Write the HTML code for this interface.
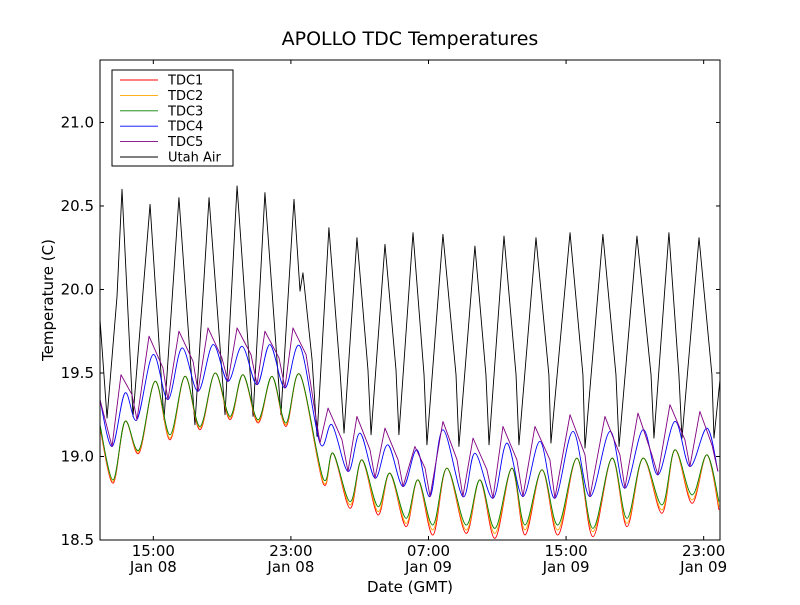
<!DOCTYPE html>
<html><head><meta charset="utf-8"><style>
body{margin:0;background:#fff;}
svg text{font-family:"DejaVu Sans","Liberation Sans",sans-serif;}
</style></head><body>
<svg id="chart" width="800" height="600" xmlns="http://www.w3.org/2000/svg">
<rect x="0" y="0" width="800" height="600" fill="#fff"/>
<text x="410" y="45" font-size="19" text-anchor="middle">APOLLO TDC Temperatures</text>
<text x="410" y="592" font-size="15" text-anchor="middle">Date (GMT)</text>
<text x="53" y="300" font-size="15" text-anchor="middle" transform="rotate(-90 53 300)">Temperature (C)</text>
<defs><clipPath id="pc"><rect x="100" y="60" width="620" height="480"/></clipPath></defs>
<g id="series" clip-path="url(#pc)"></g>
<g id="axes"></g>
<g id="legend">
<rect x="112" y="70" width="121" height="96" fill="#fff" stroke="#000" stroke-width="1"/>
</g>
</svg>
<script>
const xMin = 11.90, xMax = 47.95, yMin = 18.5, yMax = 21.374;
const yTicks = [18.5, 19.0, 19.5, 20.0, 20.5, 21.0];
const yTickLabels = ["18.5", "19.0", "19.5", "20.0", "20.5", "21.0"];
const xTicks = [15, 23, 31, 39, 47];
const xTickTimes = ["15:00", "23:00", "07:00", "15:00", "23:00"];
const xTickDates = ["Jan 08", "Jan 08", "Jan 09", "Jan 09", "Jan 09"];
const seriesNames = ["TDC1", "TDC2", "TDC3", "TDC4", "TDC5", "Utah Air"];
const seriesColors = ["red", "orange", "green", "blue", "purple", "black"];

const tdcT = [11.90,12.66,13.35,14.17,15.10,15.97,16.84,17.71,18.59,19.46,20.21,21.09,21.90,22.71,23.53,24.87,25.45,26.44,27.13,28.06,28.76,29.69,30.39,31.26,32.07,33.18,33.99,34.87,35.85,36.61,37.60,38.53,39.63,40.56,41.67,42.54,43.47,44.58,45.33,46.32,47.19,47.89];
const tdc1 = [19.17,18.84,19.21,19.02,19.45,19.10,19.48,19.16,19.50,19.22,19.49,19.20,19.48,19.18,19.49,18.84,19.02,18.69,18.98,18.65,18.90,18.58,18.86,18.53,18.93,18.54,18.86,18.51,18.93,18.53,18.92,18.53,18.99,18.52,18.99,18.58,18.99,18.66,19.04,18.72,19.01,18.68];
const tdc2 = [19.18,18.85,19.21,19.03,19.45,19.11,19.48,19.17,19.50,19.23,19.49,19.21,19.48,19.19,19.49,18.85,19.02,18.71,18.98,18.67,18.90,18.60,18.86,18.56,18.93,18.56,18.86,18.54,18.93,18.56,18.92,18.56,18.99,18.55,18.99,18.60,18.99,18.68,19.04,18.74,19.01,18.70];
const tdc3 = [19.19,18.86,19.21,19.04,19.45,19.13,19.48,19.18,19.50,19.24,19.49,19.22,19.48,19.20,19.49,18.87,19.02,18.73,18.98,18.70,18.90,18.63,18.86,18.59,18.93,18.59,18.86,18.57,18.93,18.59,18.92,18.59,18.99,18.57,18.99,18.63,18.99,18.71,19.04,18.77,19.01,18.73];
const tdc4T = [11.90,12.60,13.35,14.05,14.98,15.85,16.67,17.60,18.47,19.34,20.16,21.03,21.78,22.65,23.53,24.69,25.39,26.32,27.02,27.89,28.64,29.52,30.33,31.09,31.84,33.00,33.70,34.75,35.56,36.49,37.48,38.35,39.40,40.39,41.55,42.42,43.47,44.34,45.33,46.20,47.19,47.83];
const tdc4 = [19.34,19.06,19.38,19.22,19.61,19.34,19.65,19.39,19.67,19.45,19.66,19.43,19.67,19.41,19.66,19.08,19.19,18.91,19.14,18.87,19.07,18.82,19.04,18.76,19.16,18.76,19.02,18.75,19.08,18.76,19.09,18.75,19.15,18.76,19.15,18.81,19.16,18.89,19.21,18.94,19.17,18.91];
const tdc5T = [11.90,12.60,13.12,13.76,14.05,14.75,15.56,15.85,16.49,17.31,17.60,18.18,18.99,19.34,19.87,20.68,21.03,21.49,22.31,22.65,23.12,23.88,24.69,25.16,25.97,26.32,26.84,27.60,27.89,28.47,29.23,29.52,30.21,30.80,31.09,31.84,32.66,33.00,33.59,34.40,34.75,35.33,36.14,36.49,37.19,38.06,38.35,39.23,40.10,40.39,41.26,42.13,42.42,43.18,43.99,44.34,45.04,45.91,46.20,46.78,47.48,47.83];
const tdc5 = [19.34,19.06,19.49,19.37,19.22,19.72,19.53,19.34,19.75,19.57,19.39,19.77,19.59,19.45,19.77,19.61,19.43,19.75,19.59,19.41,19.77,19.61,19.08,19.29,19.10,18.91,19.24,19.04,18.87,19.17,18.98,18.82,19.06,18.93,18.76,19.21,18.98,18.76,19.11,18.92,18.75,19.18,18.98,18.76,19.18,18.98,18.75,19.25,19.01,18.76,19.24,19.01,18.81,19.26,19.01,18.89,19.31,19.10,18.94,19.27,19.07,18.91];
const airT = [11.90,12.31,12.89,13.18,13.82,14.81,15.62,16.49,17.42,18.24,19.17,19.87,20.80,21.49,22.42,23.18,23.53,23.70,24.23,24.52,25.21,25.85,26.09,26.84,27.48,27.66,28.47,29.11,29.28,30.10,30.74,30.91,31.84,32.60,32.77,33.70,34.34,34.52,35.39,36.09,36.26,37.25,38.00,38.12,39.23,39.98,40.10,41.14,41.90,42.08,43.12,43.94,44.11,44.98,45.56,45.74,46.73,47.48,47.60,47.95];
const airV = [19.82,19.23,19.96,20.60,19.24,20.51,19.22,20.55,19.19,20.55,19.25,20.62,19.24,20.58,19.25,20.54,19.99,20.10,19.58,19.12,20.37,19.52,19.14,20.31,19.52,19.13,20.27,19.52,19.13,20.34,19.49,19.07,20.33,19.49,19.06,20.26,19.49,19.07,20.32,19.49,19.07,20.31,19.49,19.08,20.34,19.49,19.05,20.33,19.49,19.06,20.32,19.49,19.11,20.34,19.49,19.11,20.31,19.49,19.11,19.46];

const PL = 100, PR = 720, PT = 60, PB = 540;
function xs(h){ return PL + (h - xMin) / (xMax - xMin) * (PR - PL); }
function ys(v){ return PB - (v - yMin) / (yMax - yMin) * (PB - PT); }
const NS = "http://www.w3.org/2000/svg";
function mk(tag, attrs, parent){ const e = document.createElementNS(NS, tag); for (const k in attrs) e.setAttribute(k, attrs[k]); parent.appendChild(e); return e; }

function linePath(T, V){ return T.map((t,i)=>(i?"L":"M")+xs(t).toFixed(2)+","+ys(V[i]).toFixed(2)).join(""); }
function smoothPath(T, V){
  const P = T.map((t,i)=>[xs(t), ys(V[i])]);
  let d = "M"+P[0][0].toFixed(2)+","+P[0][1].toFixed(2);
  for (let i=0;i<P.length-1;i++){
    const p0=P[Math.max(0,i-1)], p1=P[i], p2=P[i+1], p3=P[Math.min(P.length-1,i+2)];
    const c1=[p1[0]+(p2[0]-p0[0])/6, p1[1]+(p2[1]-p0[1])/6];
    const c2=[p2[0]-(p3[0]-p1[0])/6, p2[1]-(p3[1]-p1[1])/6];
    d += "C"+c1[0].toFixed(2)+","+c1[1].toFixed(2)+" "+c2[0].toFixed(2)+","+c2[1].toFixed(2)+" "+p2[0].toFixed(2)+","+p2[1].toFixed(2);
  }
  return d;
}
const sg = document.getElementById("series");
const defs = [
  ["utah-air-line", linePath(airT, airV), seriesColors[5]],
  ["tdc4-line", smoothPath(tdc4T, tdc4), seriesColors[3]],
  ["tdc5-line", linePath(tdc5T, tdc5), seriesColors[4]],
  ["tdc1-line", smoothPath(tdcT, tdc1), seriesColors[0]],
  ["tdc2-line", smoothPath(tdcT, tdc2), seriesColors[1]],
  ["tdc3-line", smoothPath(tdcT, tdc3), seriesColors[2]]
];
defs.forEach(d=>{
  const p = mk("path", {d:d[1], fill:"none", stroke:d[2], "stroke-width":"0.9", "stroke-linejoin":"round"}, sg);
  
  
});

const ax = document.getElementById("axes");
const frame = mk("rect", {x:PL, y:PT, width:PR-PL, height:PB-PT, fill:"none", stroke:"#000", "stroke-width":"1"}, ax);


yTicks.forEach((v,i)=>{
  const y = ys(v);
  mk("line", {x1:PL, x2:PL+4, y1:y, y2:y, stroke:"#000"}, ax);
  mk("line", {x1:PR-4, x2:PR, y1:y, y2:y, stroke:"#000"}, ax);
  const t = mk("text", {x:PL-6, y:y+5, "font-size":"15", "text-anchor":"end"}, ax);
  t.textContent = yTickLabels[i];
  
  
});
xTicks.forEach((h,i)=>{
  const x = xs(h);
  mk("line", {x1:x, x2:x, y1:PB, y2:PB-4, stroke:"#000"}, ax);
  mk("line", {x1:x, x2:x, y1:PT, y2:PT+4, stroke:"#000"}, ax);
  const t = mk("text", {x:x, y:PB+16, "font-size":"15", "text-anchor":"middle"}, ax);
  t.textContent = xTickTimes[i];
  
  
  const t2 = mk("text", {x:x, y:PB+32, "font-size":"15", "text-anchor":"middle"}, ax);
  t2.textContent = xTickDates[i];
  
  
});

const lg = document.getElementById("legend");
seriesNames.forEach((n,i)=>{
  const y = 80 + i*15.4;
  const l = mk("line", {x1:120, x2:158, y1:y, y2:y, stroke:seriesColors[i], "stroke-width":"0.9"}, lg);
  
  
  const t = mk("text", {x:168, y:y+4.5, "font-size":"13"}, lg);
  t.textContent = n;
  
  
});
</script>
</body></html>
